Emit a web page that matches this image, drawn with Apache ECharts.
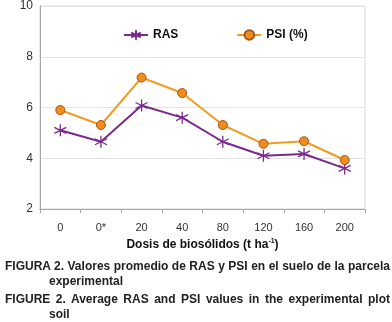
<!DOCTYPE html>
<html>
<head>
<meta charset="utf-8">
<script src="https://cdn.jsdelivr.net/npm/echarts@6/dist/echarts.min.js"></script>
<style>
  html, body { margin: 0; padding: 0; background: #fff; }
  #wrap { position: relative; width: 392px; height: 322px; overflow: hidden; }
  #chart { position: absolute; left: 0; top: 0; width: 392px; height: 322px; }
  .cap {
    position: absolute; left: 5px; width: 385px;
    font-family: Arial, "Liberation Sans", sans-serif; font-weight: bold; font-size: 12px;
    line-height: 15px; color: #222; text-align: justify;
    padding-left: 44px; text-indent: -44px; box-sizing: border-box;
  }
</style>
</head>
<body>
<div id="wrap">
  <div id="chart"></div>
  <div class="cap" style="top:259px">FIGURA 2. Valores promedio de RAS y PSI en el suelo de la parcela experimental</div>
  <div class="cap" style="top:292px">FIGURE 2. Average RAS and PSI values in the experimental plot soil</div>
</div>
<script>
// dosis de biosólidos (t ha-1)
var categories = ['0', '0*', '20', '40', '80', '120', '160', '200']
var ras = [5.1, 4.65, 6.08, 5.6, 4.65, 4.1, 4.17, 3.6]
var psi = [5.9, 5.31, 7.18, 6.57, 5.31, 4.57, 4.67, 3.93]
var yTicks = [2, 4, 6, 8, 10]

var starPath = 'path://M0,-10 L0,10 M-8.7,-5 L8.7,5 M-8.7,5 L8.7,-5'
var purple = '#7A2A8C'
var orange = '#F29A22'

var chart = echarts.init(document.getElementById('chart'))
chart.setOption({
  animation: false,
  textStyle: { fontFamily: 'Arial, "Liberation Sans", sans-serif' },
  grid: {
    left: 40, right: 27, top: 6, bottom: 113,
    show: true, borderColor: '#d9d9d9', borderWidth: 1
  },
  legend: {
    left: 118, top: 24,
    itemWidth: 24, itemHeight: 12, itemGap: 58,
    textStyle: { fontWeight: 'bold', fontSize: 12, color: '#111' },
    data: ['RAS', 'PSI (%)']
  },
  xAxis: {
    type: 'category',
    data: categories,
    boundaryGap: true,
    axisLine: { lineStyle: { color: '#a6a6a6' } },
    axisTick: { show: true, inside: false, length: 4, lineStyle: { color: '#a6a6a6' } },
    axisLabel: { color: '#333', fontSize: 11, margin: 13 },
    name: 'Dosis de biosólidos (t ha{sup|-1})',
    nameLocation: 'middle',
    nameGap: 29,
    nameTextStyle: {
      fontWeight: 'bold', fontSize: 12, color: '#111',
      rich: { sup: { fontSize: 7, fontWeight: 'bold', verticalAlign: 'top', color: '#111', padding: [0, 0, 6, 0] } }
    }
  },
  yAxis: {
    type: 'value',
    min: yTicks[0], max: yTicks[yTicks.length - 1], interval: 2,
    axisLine: { show: true, lineStyle: { color: '#a6a6a6' } },
    axisTick: { show: false },
    axisLabel: { color: '#333', fontSize: 12, margin: 7 },
    splitLine: { lineStyle: { color: '#e3e3e3' } }
  },
  series: [{
    name: 'RAS',
    type: 'line',
    data: ras,
    symbol: starPath,
    symbolSize: 12,
    itemStyle: { color: 'rgba(0,0,0,0)', borderColor: purple, borderWidth: 1.3 },
    lineStyle: { color: purple, width: 2 }
  }, {
    name: 'PSI (%)',
    type: 'line',
    data: psi,
    symbol: 'circle',
    symbolSize: 9,
    itemStyle: { color: '#F28C1C', borderColor: '#A85318', borderWidth: 1 },
    lineStyle: { color: orange, width: 2 }
  }]
})
</script>
</body>
</html>
